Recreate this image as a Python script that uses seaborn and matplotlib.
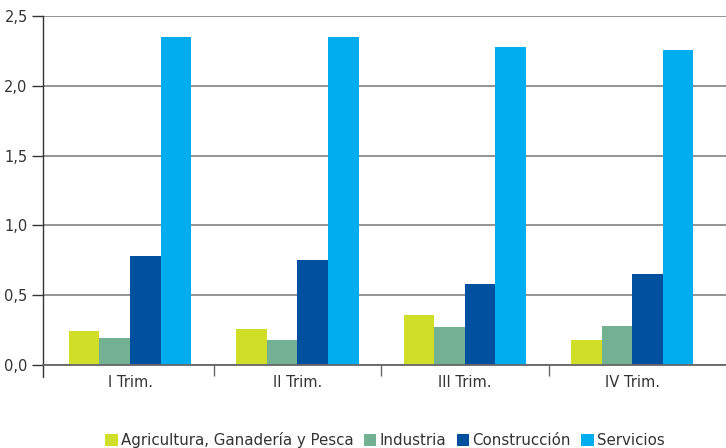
import pandas as pd
import seaborn as sns
import matplotlib.pyplot as plt
from matplotlib.ticker import FuncFormatter
from matplotlib.patches import Patch

trimestres = ["I Trim.", "II Trim.", "III Trim.", "IV Trim."]
sectores = ["Agricultura, Ganadería y Pesca", "Industria", "Construcción", "Servicios"]
agricultura = [0.24, 0.26, 0.36, 0.18]
industria = [0.19, 0.18, 0.27, 0.28]
construccion = [0.78, 0.75, 0.58, 0.65]
servicios = [2.35, 2.35, 2.28, 2.26]
colores = ["#D1DE28", "#72B293", "#0050A0", "#00AEEF"]

rows = []
for sector, vals in zip(sectores, [agricultura, industria, construccion, servicios]):
    for t, v in zip(trimestres, vals):
        rows.append({"Trimestre": t, "Sector": sector, "Valor": v})
df = pd.DataFrame(rows)

sns.set_style("white")
plt.rcParams['font.family'] = ['DejaVu Sans']

fig = plt.figure(figsize=(7.26, 4.48), dpi=100)
ax = fig.add_axes([43 / 726, 1 - 365 / 448, 1 - 43 / 726, 349 / 448])

sns.barplot(data=df, x="Trimestre", y="Valor", hue="Sector", order=trimestres,
            hue_order=sectores, palette=colores, saturation=1, width=0.73,
            linewidth=0, ax=ax, legend=False)

ax.set_ylim(0, 2.5)
ax.set_xlim(-0.52, 3.56)
ax.set_xlabel("")
ax.set_ylabel("")
ax.set_yticks([0, 0.5, 1.0, 1.5, 2.0, 2.5])
ax.yaxis.set_major_formatter(FuncFormatter(lambda v, p: f"{v:.1f}".replace(".", ",")))
ax.yaxis.grid(True, color="#8a8a8a", linewidth=1.3)
ax.set_axisbelow(True)
for s in ["top", "right"]:
    ax.spines[s].set_visible(False)
ax.spines["left"].set_color("#333333")
ax.spines["left"].set_linewidth(1.0)
ax.spines["bottom"].set_color("#666666")
ax.spines["bottom"].set_linewidth(1.3)

ax.tick_params(axis="y", left=True, length=8, width=1, color="#333333",
               labelsize=10.5, labelcolor="#333333", pad=3)
# boundary ticks, labels at centres
ax.set_xticks([0.5, 1.5, 2.5], labels=["", "", ""])
ax.set_xticks(range(4), labels=trimestres, minor=True)
ax.tick_params(axis="x", which="major", bottom=True, length=8, width=1, color="#666666")
ax.tick_params(axis="x", which="minor", bottom=False, length=0, labelsize=10.5,
               labelcolor="#333333", pad=7)
ax.axvline(-0.52, color="#333333", lw=1.0, ymin=-0.035, ymax=0, clip_on=False)

handles = [Patch(facecolor=c, edgecolor="none") for c in colores]
fig.legend(handles, sectores, loc="lower center", bbox_to_anchor=(0.53, -0.03),
           ncol=4, frameon=False, fontsize=10.8, handlelength=0.85, handleheight=0.85,
           handletextpad=0.2, columnspacing=0.7, labelcolor="#333333")

fig.savefig("out.png", dpi=100)
